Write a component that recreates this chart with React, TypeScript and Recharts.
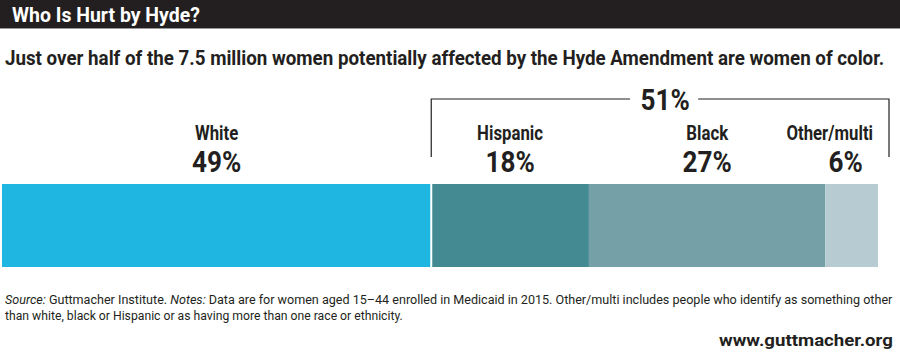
import React, { useLayoutEffect, useRef, useState } from 'react';
import { BarChart, Bar, XAxis, YAxis, LabelList, ReferenceArea } from 'recharts';

const groups = ['White', 'Hispanic', 'Black', 'Other/multi'];
const shares = [49, 18, 27, 6];
const fills = ['#1FB7E1', '#438A93', '#76A0A8', '#B7CCD2'];
const bracketLabel = '51%';
const bracketFrom = 49;
const bracketTo = 100;

const row: Record<string, any> = { name: 'all' };
groups.forEach((g, i) => { row[g] = shares[i]; });
const data = [row];

const FONT = "Roboto, 'Liberation Sans', sans-serif";
const INK = '#231F20';

// condensed text: squeeze glyphs horizontally to look like Helvetica Condensed
function Cond({ x, y, size, sx, anchor = 'middle', children }: any) {
  return (
    <text transform={`translate(${x},${y}) scale(${sx},1)`} textAnchor={anchor} fontSize={size}
      fontWeight={700} fill={INK} style={{ fontFamily: FONT }}>
      {children}
    </text>
  );
}

// text squeezed to a given width, measured after mount
function Fit({ x, y, width, size, weight = 400, fill = INK, children }: any) {
  const ref = useRef<SVGTextElement>(null);
  const [sx, setSx] = useState(1);
  useLayoutEffect(() => {
    if (!ref.current) return;
    const w = ref.current.getComputedTextLength();
    if (w > 0) setSx(width / w);
  }, [width]);
  return (
    <text ref={ref} transform={`translate(${x},${y}) scale(${sx},1)`} fontSize={size} fontWeight={weight}
      fill={fill} style={{ fontFamily: FONT }}>
      {children}
    </text>
  );
}

function makeLabel(idx: number) {
  return (props: any) => {
    const { x, y, width, height } = props;
    const last = idx === groups.length - 1;
    const cx = x + width / 2;
    return (
      <g>
        <Cond x={last ? x + width - 5 : cx} y={y - 44} size={20} sx={0.84} anchor={last ? 'end' : 'middle'}>
          {groups[idx]}
        </Cond>
        <Cond x={last ? cx - 6 : cx} y={y - 12} size={29} sx={0.9}>
          {shares[idx]}%
        </Cond>
        {idx === 0 ? <line x1={x + width} x2={x + width} y1={y} y2={y + height} stroke="#fff" strokeWidth={2} /> : null}
      </g>
    );
  };
}

function Bracket(props: any) {
  const { x, y, width } = props;
  const top = y - 85;
  const left = x;
  const right = x + width + 11;
  const mid = (left + right) / 2 + 5;
  return (
    <g>
      <path d={`M${left},${y - 27} L${left},${top} L${mid - 35},${top} M${mid + 33},${top} L${right},${top} L${right},${y - 27}`}
        fill="none" stroke={INK} strokeWidth={1.2} />
      <Cond x={mid} y={top + 11} size={29} sx={0.9}>{bracketLabel}</Cond>
    </g>
  );
}

export default function App() {
  return (
    <div style={{ position: 'absolute', left: 0, top: 0, width: 900, height: 354, background: '#fff', overflow: 'hidden' }}>
      <svg width={900} height={354} style={{ position: 'absolute', left: 0, top: 0 }}>
        <rect x={0} y={0} width={900} height={28} fill={INK} />
        <rect x={0} y={28} width={900} height={1} fill="#9a9a9a" />
        <Fit x={12} y={22} width={188} size={21} weight={700} fill="#fff">Who Is Hurt by Hyde?</Fit>
        <Fit x={5} y={65} width={880} size={20} weight={700}>
          Just over half of the 7.5 million women potentially affected by the Hyde Amendment are women of color.
        </Fit>
        <Fit x={5} y={304} width={888} size={12}>
          <tspan fontStyle="italic">Source:</tspan> Guttmacher Institute. <tspan fontStyle="italic">Notes:</tspan> Data are for women aged 15–44 enrolled in Medicaid in 2015. Other/multi includes people who identify as something other
        </Fit>
        <Fit x={5} y={320} width={398} size={12}>
          than white, black or Hispanic or as having more than one race or ethnicity.
        </Fit>
        <Fit x={719} y={346} width={174} size={17} weight={700}>www.guttmacher.org</Fit>
      </svg>
      <div style={{ position: 'absolute', left: 0, top: 0 }}>
        <BarChart width={900} height={354} data={data} layout="vertical" barCategoryGap={0}
          margin={{ top: 184, right: 22, bottom: 87, left: 2 }}>
          <XAxis type="number" domain={[0, 100]} hide />
          <YAxis type="category" dataKey="name" hide />
          {groups.map((g, i) => (
            <Bar key={g} dataKey={g} stackId="s" fill={fills[i]} isAnimationActive={false}>
              <LabelList dataKey={g} content={makeLabel(i)} />
            </Bar>
          ))}
          <ReferenceArea x1={bracketFrom} x2={bracketTo} ifOverflow="visible" fillOpacity={0} shape={(p: any) => <Bracket {...p} />} />
        </BarChart>
      </div>
    </div>
  );
}
